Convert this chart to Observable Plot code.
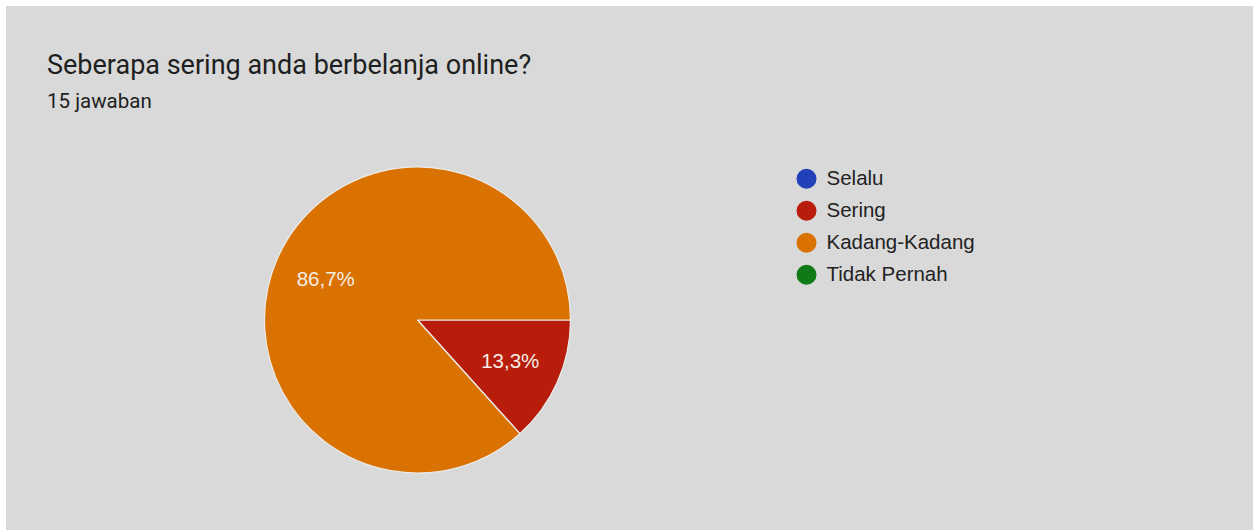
<!DOCTYPE html>
<html>
<head>
<meta charset="utf-8">
<script src="https://cdn.jsdelivr.net/npm/d3@7"></script>
<script src="https://cdn.jsdelivr.net/npm/@observablehq/plot@0.6"></script>
<style>
  html, body { margin: 0; padding: 0; background: #ffffff; }
  #frame { position: absolute; left: 6px; top: 6px; width: 1247px; height: 524px; background: #d9d9d9; overflow: hidden; }
  #title { position: absolute; left: 41px; top: 42.8px; font-family: Roboto, sans-serif; font-size: 27px; line-height: 32px; color: #1e1f21; white-space: nowrap; }
  #subtitle { position: absolute; left: 41px; top: 83.3px; font-family: Roboto, sans-serif; font-size: 20.5px; line-height: 24px; color: #1e1f21; white-space: nowrap; }
  #chart { position: absolute; left: 0; top: 124px; }
</style>
</head>
<body>
<div id="frame">
  <div id="title">Seberapa sering anda berbelanja online?</div>
  <div id="subtitle">15 jawaban</div>
  <div id="chart"></div>
</div>
<script>
const categories = ["Selalu", "Sering", "Kadang-Kadang", "Tidak Pernah"];
const counts = [0, 2, 13, 0];
const colors = ["#2240b8", "#b81d0c", "#d97200", "#0f7a16"];

const W = 1247, H = 400;
const cx = 411.5, cy = 190, R = 153;
const legendX = 800, legendY = 48.3, legendStep = 32, legendTextX = 820;

const rows = categories.map((cat, i) => ({cat, count: counts[i], i}));
const total = d3.sum(counts);
const pie = d3.pie().value(d => d.count).sort(null)
  .startAngle(Math.PI / 2).endAngle(Math.PI / 2 + 2 * Math.PI);
const arcs = pie(rows).filter(a => a.data.count > 0);
const Lr = R * 0.66;
const labels = arcs.map(a => {
  const mid = (a.startAngle + a.endAngle) / 2;
  return {
    x: cx + Lr * Math.sin(mid),
    y: cy - Lr * Math.cos(mid),
    text: (a.data.count / total * 100).toFixed(1).replace(".", ",") + "%"
  };
});

function pieMark(index, scales) {
  const arc = d3.arc().innerRadius(0).outerRadius(R);
  const g = d3.create("svg:g")
    .attr("transform", `translate(${scales.x(cx)},${scales.y(cy)})`);
  g.selectAll("path").data(arcs).join("path")
    .attr("d", arc)
    .attr("fill", a => scales.color(a.data.cat))
    .attr("stroke", "#ececec")
    .attr("stroke-width", 1.2)
    .attr("stroke-linejoin", "round");
  return g.node();
}

const chart = Plot.plot({
  width: W,
  height: H,
  margin: 0,
  style: {background: "transparent", overflow: "visible"},
  x: {domain: [0, W], range: [0, W], axis: null},
  y: {domain: [0, H], range: [0, H], axis: null},
  color: {domain: categories, range: colors},
  marks: [
    pieMark,
    Plot.text(labels, {x: "x", y: "y", text: "text", fill: "#f5ede6",
      fontFamily: "'Liberation Sans', Arial, sans-serif", fontSize: 20.5, textAnchor: "middle"}),
    Plot.dot(rows, {x: () => legendX, y: d => legendY + d.i * legendStep, r: 10, fill: "cat", stroke: null}),
    Plot.text(rows, {x: () => legendTextX, y: d => legendY + d.i * legendStep, text: "cat",
      fill: "#222222", fontFamily: "'Liberation Sans', Arial, sans-serif", fontSize: 20.5, textAnchor: "start"})
  ]
});
document.getElementById("chart").appendChild(chart);
</script>
</body>
</html>
